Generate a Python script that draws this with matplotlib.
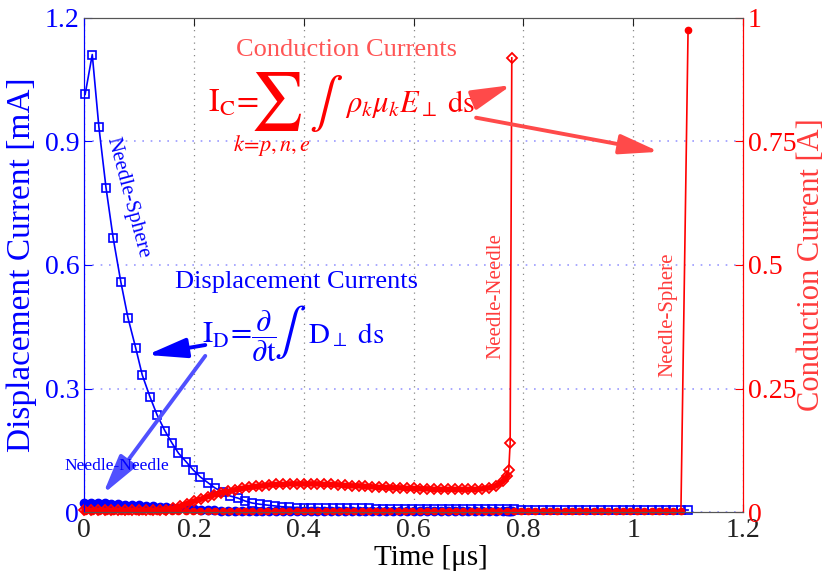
import matplotlib
matplotlib.use('Agg')
import matplotlib.pyplot as plt

plt.rcParams['font.family'] = ['Liberation Serif', 'DejaVu Serif']
plt.rcParams['mathtext.fontset'] = 'stix'

BLUE = '#0000ff'
RED = '#ff0000'
LRED = '#ff4a4a'
LBLUE = '#5050ff'

# needle-sphere gap (coarse time grid), time in us
t_ns = [0.002, 0.015, 0.027, 0.040, 0.053, 0.067, 0.080, 0.094, 0.106, 0.120,
        0.133, 0.147, 0.160, 0.172, 0.186, 0.199, 0.212, 0.226, 0.239, 0.253,
        0.266, 0.280, 0.293, 0.306, 0.320, 0.333, 0.347, 0.360, 0.373, 0.387,
        0.400, 0.413, 0.426, 0.440, 0.453, 0.466, 0.479, 0.492, 0.506, 0.519,
        0.532, 0.545, 0.558, 0.572, 0.585, 0.598, 0.611, 0.624, 0.638, 0.651,
        0.664, 0.677, 0.690, 0.704, 0.717, 0.730, 0.743, 0.756, 0.770, 0.783,
        0.796, 0.809, 0.822, 0.836, 0.849, 0.862, 0.875, 0.888, 0.902, 0.915,
        0.928, 0.941, 0.954, 0.968, 0.981, 0.994, 1.007, 1.020, 1.034, 1.047,
        1.060, 1.073, 1.087, 1.100]
# displacement current [mA]
id_ns = [1.014, 1.111, 0.936, 0.788, 0.666, 0.559, 0.472, 0.399, 0.333, 0.280,
         0.236, 0.198, 0.168, 0.143, 0.122, 0.102, 0.085, 0.071, 0.058, 0.049,
         0.039, 0.034, 0.027, 0.022, 0.019, 0.017, 0.015, 0.013, 0.012, 0.011,
         0.010, 0.010, 0.010, 0.010, 0.009, 0.009, 0.009, 0.009, 0.009, 0.009,
         0.008, 0.008, 0.008, 0.008, 0.008, 0.008, 0.008, 0.008, 0.007, 0.007,
         0.007, 0.007, 0.007, 0.007, 0.007, 0.007, 0.007, 0.007, 0.007, 0.007,
         0.006, 0.006, 0.006, 0.006, 0.006, 0.006, 0.006, 0.006, 0.006, 0.006,
         0.006, 0.006, 0.006, 0.006, 0.006, 0.005, 0.005, 0.005, 0.005, 0.005,
         0.005, 0.005, 0.005, 0.005]
# conduction current [A]
ic_ns = [0.002, 0.002, 0.002, 0.002, 0.002, 0.002, 0.002, 0.002, 0.002, 0.002,
         0.002, 0.002, 0.002, 0.002, 0.002, 0.002, 0.002, 0.002, 0.002, 0.002,
         0.002, 0.002, 0.002, 0.002, 0.002, 0.002, 0.002, 0.002, 0.002, 0.002,
         0.002, 0.002, 0.002, 0.002, 0.002, 0.002, 0.002, 0.002, 0.002, 0.002,
         0.002, 0.002, 0.002, 0.002, 0.002, 0.002, 0.002, 0.002, 0.002, 0.002,
         0.002, 0.002, 0.002, 0.002, 0.002, 0.002, 0.002, 0.002, 0.002, 0.002,
         0.002, 0.002, 0.002, 0.002, 0.002, 0.002, 0.002, 0.002, 0.002, 0.002,
         0.002, 0.002, 0.002, 0.002, 0.002, 0.002, 0.002, 0.002, 0.002, 0.002,
         0.002, 0.002, 0.002, 0.975]

# needle-needle gap (fine time grid)
t_nn = [0.000, 0.0125, 0.025, 0.0375, 0.050, 0.0625, 0.075, 0.0875, 0.100, 0.1125,
        0.125, 0.1375, 0.150, 0.1625, 0.175, 0.1875, 0.200, 0.2125, 0.225, 0.2375,
        0.250, 0.2625, 0.275, 0.2875, 0.300, 0.3125, 0.325, 0.3375, 0.350, 0.3625,
        0.375, 0.3875, 0.400, 0.4125, 0.425, 0.4375, 0.450, 0.4625, 0.475, 0.4875,
        0.500, 0.5125, 0.525, 0.5375, 0.550, 0.5625, 0.575, 0.5875, 0.600, 0.6125,
        0.625, 0.6375, 0.650, 0.6625, 0.675, 0.6875, 0.700, 0.7125, 0.725, 0.7375,
        0.750, 0.7625, 0.770, 0.7735, 0.776, 0.779]
id_nn = [0.022, 0.023, 0.022, 0.021, 0.020, 0.019, 0.018, 0.017, 0.016, 0.015,
         0.014, 0.013, 0.012, 0.011, 0.010, 0.009, 0.008, 0.006, 0.005, 0.004,
         0.003, 0.002, 0.002, 0.002, 0.002, 0.002, 0.002, 0.002, 0.002, 0.002,
         0.002, 0.002, 0.002, 0.002, 0.002, 0.002, 0.002, 0.002, 0.002, 0.002,
         0.002, 0.002, 0.002, 0.002, 0.002, 0.002, 0.002, 0.002, 0.002, 0.002,
         0.002, 0.002, 0.002, 0.002, 0.002, 0.002, 0.002, 0.002, 0.002, 0.002,
         0.002, 0.002, 0.002, 0.002, 0.002, 0.002]
ic_nn = [0.004, 0.004, 0.004, 0.004, 0.004, 0.004, 0.004, 0.004, 0.004, 0.004,
         0.004, 0.004, 0.005, 0.008, 0.012, 0.017, 0.022, 0.026, 0.031, 0.035,
         0.039, 0.042, 0.045, 0.048, 0.050, 0.052, 0.053, 0.055, 0.056, 0.056,
         0.057, 0.057, 0.057, 0.057, 0.057, 0.056, 0.056, 0.055, 0.054, 0.053,
         0.053, 0.052, 0.051, 0.050, 0.050, 0.049, 0.049, 0.048, 0.048, 0.047,
         0.047, 0.046, 0.046, 0.046, 0.046, 0.046, 0.046, 0.046, 0.047, 0.049,
         0.053, 0.062, 0.072, 0.085, 0.140, 0.919]

xticks = [0, 0.2, 0.4, 0.6, 0.8, 1, 1.2]
xlabels = ['0', '0.2', '0.4', '0.6', '0.8', '1', '1.2']
lticks = [0, 0.3, 0.6, 0.9, 1.2]
llabels = ['0', '0.3', '0.6', '0.9', '1.2']
rticks = [0, 0.25, 0.5, 0.75, 1]
rlabels = ['0', '0.25', '0.5', '0.75', '1']

fig = plt.figure(figsize=(8.27, 5.76), dpi=100)
ax = fig.add_axes([0.1016, 0.111, 0.7968, 0.858])
ax2 = ax.twinx()

# left axis: displacement currents
ax.plot(t_nn, id_nn, color=BLUE, lw=4, solid_capstyle='round', clip_on=False, zorder=2)
ax.plot(t_nn, id_nn, 'o', color=BLUE, ms=6, clip_on=False, zorder=2)
ax.plot(t_ns, id_ns, '-s', color=BLUE, lw=1.2, ms=6, mfc='none', mew=1.2,
        clip_on=False, zorder=3)

# right axis: conduction currents
ax2.plot(t_nn[:-3], ic_nn[:-3], color=RED, lw=4, clip_on=False)
ax2.plot(t_nn, ic_nn, '-D', color=RED, lw=1.2, ms=5, mfc='none', mew=1.3, clip_on=False)
ax2.plot(t_ns, ic_ns, '-o', color=RED, lw=1.2, ms=4.5, clip_on=False)

ax.set_xlim(0, 1.2)
ax.set_ylim(0, 1.2)
ax2.set_ylim(0, 1)
ax.set_xticks(xticks, xlabels)
ax.set_yticks(lticks, llabels)
ax2.set_yticks(rticks, rlabels)

ax.grid(True, axis='x', ls=(0, (1, 4)), color='#888888', lw=0.9)
ax.grid(True, axis='y', ls=(0, (1, 4)), color='#9a9aff', lw=1.2)

ax.tick_params(axis='x', direction='in', length=6, top=True, labelsize=20,
               colors='#222222', pad=4)
ax.tick_params(axis='y', direction='in', length=6, labelsize=20, colors=BLUE)
ax2.tick_params(axis='y', direction='in', length=6, labelsize=20, colors=RED)
for a in (ax, ax2):
    a.spines['top'].set_color('#555555')
    a.spines['bottom'].set_color('#555555')
    a.spines['left'].set_color(BLUE)
    a.spines['right'].set_color(RED)

ax.set_xlabel('Time [\u03bcs]', fontsize=21)
ax.xaxis.set_label_coords(0.527, -0.066)
ax.set_ylabel('Displacement Current [mA]', fontsize=24, color=BLUE)
ax.yaxis.set_label_coords(-0.072, 0.5)
ax2.set_ylabel('Conduction Current [A]', fontsize=22, color='#ff3b3b')
ax2.yaxis.set_label_coords(1.082, 0.5)

# annotations, placed in axes-fraction coordinates
tr = ax2.transAxes
tk = dict(xycoords='axes fraction', textcoords='axes fraction')
arrow = '-|>,head_length=1.2,head_width=0.3'

ax2.text(0.399, 0.935, 'Conduction Currents', transform=tr,
         fontsize=19, color='#ff5555', ha='center', va='center')
ax2.text(0.188, 0.810, r'$\mathrm{I_C}\!=$', transform=tr, fontsize=23,
         color=RED, ha='left', va='baseline')
ax2.text(0.292, 0.830, r'$\sum$', transform=tr, fontsize=42,
         color=RED, ha='center', va='center')
ax2.text(0.285, 0.741, r'$k\!=\!p,n,e$', transform=tr, fontsize=16,
         color=RED, ha='center', va='center')
ax2.text(0.367, 0.826, r'$\int$', transform=tr, fontsize=36,
         color=RED, ha='center', va='center')
ax2.text(0.396, 0.810, r'$\rho_k\mu_k E_\perp\ \mathrm{ds}$', transform=tr,
         fontsize=22, color=RED, ha='left', va='baseline')
ax2.annotate('', xy=(0.649, 0.864), xytext=(0.595, 0.836),
             arrowprops=dict(arrowstyle=arrow, color=LRED, lw=2.8,
                             mutation_scale=20, shrinkA=0, shrinkB=0), **tk)
ax2.annotate('', xy=(0.873, 0.729), xytext=(0.595, 0.798),
             arrowprops=dict(arrowstyle=arrow, color=LRED, lw=2.8,
                             mutation_scale=20, shrinkA=0, shrinkB=0), **tk)

ax2.text(0.323, 0.466, 'Displacement Currents', transform=tr,
         fontsize=19, color=BLUE, ha='center', va='center')
ax2.text(0.179, 0.342, r'$\mathrm{I_D}\!=\!\dfrac{\partial}{\partial \mathrm{t}}$',
         transform=tr, fontsize=22, color=BLUE, ha='left', va='baseline')
ax2.text(0.3126, 0.364, r'$\int$', transform=tr, fontsize=34,
         color=BLUE, ha='center', va='center')
ax2.text(0.340, 0.342, r'$\mathrm{D_\perp\ ds}$', transform=tr, fontsize=21,
         color=BLUE, ha='left', va='baseline')
ax2.annotate('', xy=(0.0956, 0.318), xytext=(0.184, 0.338),
             arrowprops=dict(arrowstyle=arrow, color=BLUE, lw=2.8,
                             mutation_scale=20, shrinkA=0, shrinkB=0), **tk)
ax2.annotate('', xy=(0.0288, 0.0364), xytext=(0.184, 0.316),
             arrowprops=dict(arrowstyle=arrow, color=LBLUE, lw=2.8,
                             mutation_scale=20, shrinkA=0, shrinkB=0), **tk)

ax2.text(0.050, 0.093, 'Needle-Needle', transform=tr, fontsize=12.5,
         color=BLUE, ha='center', va='center')
ax2.text(0.0668, 0.636, 'Needle-Sphere', transform=tr, fontsize=15,
         color=BLUE, ha='center', va='center', rotation=-75)
ax2.text(0.625, 0.437, 'Needle-Needle', transform=tr, fontsize=15,
         color='#ff3b3b', ha='center', va='center', rotation=90)
ax2.text(0.886, 0.399, 'Needle-Sphere', transform=tr, fontsize=15,
         color='#ff3b3b', ha='center', va='center', rotation=90)

fig.savefig('out.png', dpi=100)
